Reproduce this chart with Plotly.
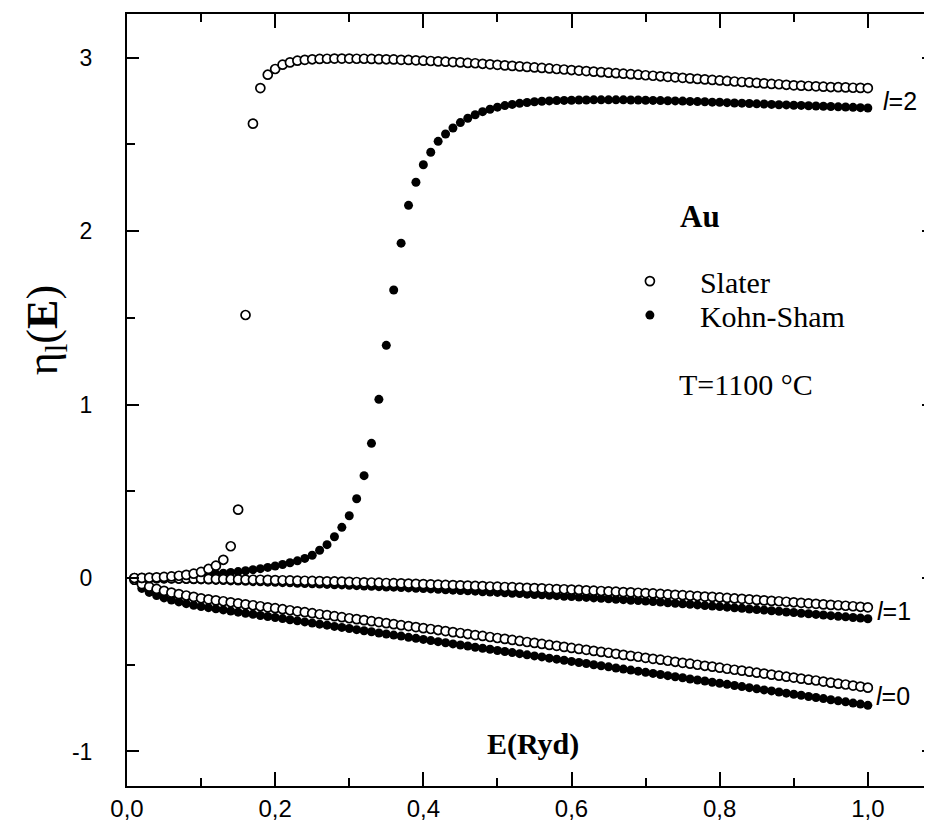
import plotly.graph_objects as go

# Energy grid (Ryd)
energy = [round(0.01 * i, 2) for i in range(1, 101)]

# Slater (open circles)
slater_l0 = [-0.010, -0.035, -0.050, -0.063, -0.074, -0.084, -0.093, -0.101, -0.109, -0.117,
             -0.123, -0.129, -0.134, -0.140, -0.146, -0.152, -0.157, -0.163, -0.169, -0.174,
             -0.180, -0.186, -0.192, -0.197, -0.203, -0.209, -0.214, -0.220, -0.226, -0.232,
             -0.237, -0.243, -0.249, -0.254, -0.260, -0.266, -0.272, -0.277, -0.283, -0.289,
             -0.294, -0.300, -0.306, -0.312, -0.317, -0.323, -0.329, -0.334, -0.340, -0.346,
             -0.351, -0.357, -0.363, -0.369, -0.374, -0.380, -0.386, -0.391, -0.397, -0.403,
             -0.409, -0.414, -0.420, -0.426, -0.431, -0.437, -0.443, -0.449, -0.454, -0.460,
             -0.466, -0.471, -0.477, -0.483, -0.489, -0.494, -0.500, -0.506, -0.511, -0.517,
             -0.523, -0.529, -0.534, -0.540, -0.546, -0.551, -0.557, -0.563, -0.569, -0.574,
             -0.580, -0.586, -0.591, -0.597, -0.603, -0.609, -0.614, -0.620, -0.626, -0.632]
slater_l1 = [0.000, -0.000, -0.001, -0.001, -0.002, -0.002, -0.003, -0.003, -0.004, -0.004,
             -0.005, -0.006, -0.006, -0.007, -0.008, -0.009, -0.010, -0.010, -0.011, -0.012,
             -0.013, -0.014, -0.015, -0.016, -0.017, -0.018, -0.019, -0.020, -0.021, -0.022,
             -0.023, -0.025, -0.026, -0.027, -0.029, -0.030, -0.031, -0.032, -0.034, -0.035,
             -0.037, -0.038, -0.040, -0.041, -0.043, -0.044, -0.046, -0.047, -0.049, -0.050,
             -0.052, -0.053, -0.055, -0.057, -0.058, -0.060, -0.062, -0.064, -0.065, -0.067,
             -0.069, -0.071, -0.073, -0.075, -0.077, -0.079, -0.081, -0.083, -0.085, -0.087,
             -0.089, -0.092, -0.094, -0.097, -0.099, -0.102, -0.104, -0.107, -0.109, -0.112,
             -0.115, -0.118, -0.120, -0.123, -0.126, -0.129, -0.132, -0.134, -0.137, -0.140,
             -0.143, -0.146, -0.149, -0.152, -0.155, -0.157, -0.160, -0.163, -0.166, -0.169]
slater_l2 = [0.000, 0.001, 0.002, 0.004, 0.006, 0.009, 0.013, 0.018, 0.025, 0.035,
             0.052, 0.071, 0.105, 0.183, 0.394, 1.516, 2.619, 2.824, 2.901, 2.934,
             2.959, 2.972, 2.982, 2.987, 2.990, 2.992, 2.993, 2.994, 2.994, 2.994,
             2.993, 2.993, 2.992, 2.991, 2.990, 2.989, 2.987, 2.986, 2.984, 2.982,
             2.980, 2.978, 2.976, 2.974, 2.972, 2.969, 2.967, 2.964, 2.961, 2.958,
             2.955, 2.952, 2.949, 2.946, 2.943, 2.940, 2.937, 2.934, 2.931, 2.928,
             2.925, 2.922, 2.919, 2.916, 2.913, 2.910, 2.907, 2.904, 2.901, 2.898,
             2.895, 2.892, 2.889, 2.886, 2.883, 2.880, 2.877, 2.874, 2.871, 2.868,
             2.865, 2.862, 2.859, 2.857, 2.854, 2.851, 2.848, 2.846, 2.843, 2.840,
             2.838, 2.836, 2.834, 2.832, 2.830, 2.829, 2.828, 2.826, 2.825, 2.824]

# Kohn-Sham (filled circles)
ks_l0 = [-0.015, -0.060, -0.083, -0.101, -0.115, -0.127, -0.138, -0.148, -0.157, -0.165,
         -0.171, -0.178, -0.184, -0.190, -0.197, -0.203, -0.209, -0.216, -0.222, -0.228,
         -0.234, -0.241, -0.247, -0.253, -0.260, -0.266, -0.272, -0.279, -0.285, -0.291,
         -0.298, -0.304, -0.310, -0.317, -0.323, -0.329, -0.335, -0.342, -0.348, -0.354,
         -0.361, -0.367, -0.373, -0.380, -0.386, -0.392, -0.399, -0.405, -0.411, -0.418,
         -0.424, -0.430, -0.436, -0.443, -0.449, -0.455, -0.462, -0.468, -0.474, -0.481,
         -0.487, -0.493, -0.500, -0.506, -0.512, -0.519, -0.525, -0.531, -0.537, -0.544,
         -0.550, -0.556, -0.563, -0.569, -0.575, -0.582, -0.588, -0.594, -0.601, -0.607,
         -0.613, -0.620, -0.626, -0.632, -0.639, -0.645, -0.651, -0.657, -0.664, -0.670,
         -0.676, -0.683, -0.689, -0.695, -0.702, -0.708, -0.714, -0.721, -0.727, -0.734]
ks_l1 = [-0.001, -0.002, -0.003, -0.004, -0.005, -0.006, -0.008, -0.009, -0.010, -0.011,
         -0.012, -0.014, -0.015, -0.017, -0.018, -0.019, -0.021, -0.022, -0.024, -0.025,
         -0.027, -0.028, -0.030, -0.032, -0.033, -0.035, -0.037, -0.039, -0.040, -0.042,
         -0.044, -0.046, -0.048, -0.050, -0.052, -0.053, -0.055, -0.057, -0.059, -0.061,
         -0.063, -0.065, -0.068, -0.070, -0.072, -0.074, -0.076, -0.079, -0.081, -0.083,
         -0.085, -0.088, -0.090, -0.093, -0.095, -0.097, -0.100, -0.102, -0.105, -0.107,
         -0.110, -0.112, -0.115, -0.117, -0.120, -0.123, -0.125, -0.128, -0.130, -0.133,
         -0.136, -0.139, -0.143, -0.146, -0.149, -0.152, -0.155, -0.159, -0.162, -0.165,
         -0.168, -0.172, -0.175, -0.179, -0.182, -0.185, -0.189, -0.192, -0.196, -0.199,
         -0.203, -0.206, -0.210, -0.213, -0.217, -0.221, -0.224, -0.228, -0.231, -0.235]
ks_l2 = [0.000, 0.001, 0.002, 0.003, 0.005, 0.007, 0.009, 0.011, 0.014, 0.017,
         0.020, 0.024, 0.028, 0.032, 0.037, 0.042, 0.048, 0.054, 0.061, 0.069,
         0.078, 0.088, 0.099, 0.113, 0.131, 0.160, 0.192, 0.238, 0.292, 0.359,
         0.457, 0.590, 0.776, 1.030, 1.341, 1.660, 1.930, 2.148, 2.281, 2.382,
         2.454, 2.517, 2.559, 2.594, 2.625, 2.650, 2.670, 2.688, 2.702, 2.714,
         2.723, 2.730, 2.736, 2.741, 2.745, 2.748, 2.750, 2.752, 2.753, 2.754,
         2.755, 2.755, 2.756, 2.756, 2.756, 2.756, 2.756, 2.755, 2.755, 2.754,
         2.753, 2.752, 2.751, 2.750, 2.749, 2.747, 2.746, 2.745, 2.743, 2.742,
         2.740, 2.738, 2.737, 2.735, 2.733, 2.732, 2.730, 2.728, 2.727, 2.725,
         2.724, 2.722, 2.721, 2.719, 2.718, 2.716, 2.715, 2.713, 2.711, 2.709]

x_tickvals = [0.0, 0.2, 0.4, 0.6, 0.8, 1.0]
x_ticktext = ["0,0", "0,2", "0,4", "0,6", "0,8", "1,0"]
y_tickvals = [-1, 0, 1, 2, 3]
y_ticktext = ["-1", "0", "1", "2", "3"]

SERIF = "Liberation Serif, Times New Roman, serif"
SANS = "Liberation Sans, Arial, sans-serif"

fig = go.Figure()

ks_series = [("l=0", ks_l0), ("l=1", ks_l1), ("l=2", ks_l2)]
sl_series = [("l=0", slater_l0), ("l=1", slater_l1), ("l=2", slater_l2)]

for i, (lab, ys) in enumerate(ks_series):
    fig.add_trace(go.Scatter(
        x=energy, y=ys, mode="markers", name="Kohn-Sham",
        legendgroup="ks", showlegend=(i == 2), legend="legend2",
        marker=dict(symbol="circle", size=9, color="black",
                    line=dict(color="black", width=0)),
    ))
for i, (lab, ys) in enumerate(sl_series):
    fig.add_trace(go.Scatter(
        x=energy, y=ys, mode="markers", name="Slater",
        legendgroup="sl", showlegend=(i == 2), legend="legend",
        marker=dict(symbol="circle", size=9, color="white",
                    line=dict(color="black", width=1.7)),
    ))

annotations = [
    dict(x=0.774, y=2.086, text="<b>Au</b>", font=dict(family=SERIF, size=31)),
    dict(x=0.835, y=1.118, text="T=1100 °C", font=dict(family=SERIF, size=30)),
    dict(x=0.548, y=-0.957, text="<b>E(Ryd)</b>", font=dict(family=SERIF, size=30)),
    dict(x=1.0435, y=2.749, text="<i>l</i>=2", font=dict(family=SANS, size=25)),
    dict(x=1.035, y=-0.19, text="<i>l</i>=1", font=dict(family=SANS, size=25)),
    dict(x=1.034, y=-0.68, text="<i>l</i>=0", font=dict(family=SANS, size=25)),
]
for a in annotations:
    a.update(xref="x", yref="y", showarrow=False, xanchor="center", yanchor="middle",
             font=dict(color="black", **a["font"]))

annotations.append(dict(
    xref="paper", yref="y", x=-0.1, y=1.43, xanchor="center", yanchor="middle",
    text="η<sub>l</sub>(<b>E</b>)", textangle=-90, showarrow=False,
    font=dict(family=SERIF, size=44, color="black")))

axis_common = dict(
    showline=True, linewidth=2, linecolor="black", mirror="ticks",
    ticks="inside", tickwidth=2, tickcolor="black",
    showgrid=False, zeroline=False,
)

legend_common = dict(xanchor="left", yanchor="middle", bgcolor="rgba(0,0,0,0)",
                     borderwidth=0, itemwidth=90,
                     font=dict(family=SERIF, size=30, color="black"))

fig.update_layout(
    width=932, height=824,
    margin=dict(l=119, r=4, t=6, b=46),
    paper_bgcolor="white", plot_bgcolor="white",
    xaxis=dict(range=[0, 1.0893], tickvals=x_tickvals, ticktext=x_ticktext,
               ticklen=14, ticklabelstandoff=0,
               tickfont=dict(family=SANS, size=24, color="black"),
               minor=dict(tick0=0, dtick=0.1, ticks="inside", ticklen=8,
                          tickwidth=2, tickcolor="black", showgrid=False),
               **axis_common),
    yaxis=dict(range=[-1.199, 3.251], tickvals=y_tickvals, ticktext=y_ticktext,
               ticklen=12, ticklabelstandoff=28,
               tickfont=dict(family=SANS, size=23, color="black"),
               minor=dict(tick0=0, dtick=0.5, ticks="inside", ticklen=8,
                          tickwidth=2, tickcolor="black", showgrid=False),
               **axis_common),
    legend=dict(x=0.586, y=0.654, **legend_common),
    legend2=dict(x=0.586, y=0.610, **legend_common),
    annotations=annotations,
    showlegend=True,
)

fig.write_html("out.html")
